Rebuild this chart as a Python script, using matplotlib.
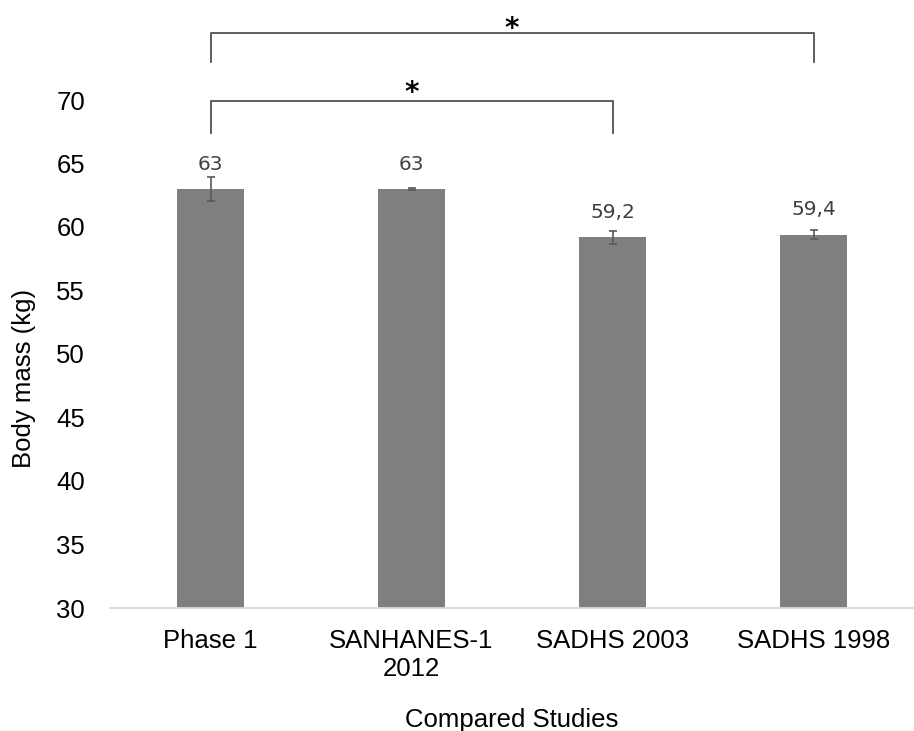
import matplotlib.pyplot as plt

studies = ['Phase 1', 'SANHANES-1\n2012', 'SADHS 2003', 'SADHS 1998']
body_mass = [63, 63, 59.2, 59.4]
errors = [0.95, 0.05, 0.5, 0.35]
value_labels = ['63', '63', '59,2', '59,4']

# significance brackets: (left bar, right bar, height, leg bottom, star baseline)
brackets = [(0, 3, 75.3, 73.0, 74.95), (0, 2, 69.9, 67.4, 69.9)]

fig = plt.figure(figsize=(9.14, 7.31), dpi=100)
ax = fig.add_axes([110 / 914, 123 / 731, 804 / 914, 608 / 731])

x = range(len(studies))
ax.bar(x, body_mass, width=0.33, color='#7f7f7f', zorder=2)
ax.errorbar(x, body_mass, yerr=errors, fmt='none', ecolor='#595959',
            elinewidth=1.2, capsize=3, capthick=1.2, zorder=3)

for i, (v, lab) in enumerate(zip(body_mass, value_labels)):
    ax.text(i, v + 1.95, lab, ha='center', va='center',
            fontsize=14.5, color='#404040', family='DejaVu Sans')

for a, b, top, leg, star in brackets:
    ax.plot([a, a, b, b], [leg, top, top, leg], color='#505050', lw=1.3,
            clip_on=False, zorder=4)
    ax.text((a + b) / 2, star, '*', ha='center', va='baseline',
            fontsize=20, fontweight='bold', color='black', family='DejaVu Sans')

ax.set_xlim(-0.5, 3.5)
ax.set_ylim(30, 30 + 608 / 12.7)
ax.set_yticks(range(30, 71, 5))
ax.set_xticks(list(x))
ax.set_xticklabels(studies, fontsize=18.5, family='Liberation Sans', linespacing=1.2)
for t in ax.get_yticklabels():
    t.set_fontsize(18.5)
    t.set_family('Liberation Sans')
ax.tick_params(axis='both', length=0)
ax.tick_params(axis='y', pad=18)
ax.tick_params(axis='x', pad=15)

for side in ['top', 'right', 'left']:
    ax.spines[side].set_visible(False)
ax.spines['bottom'].set_color('#d9d9d9')
ax.spines['bottom'].set_linewidth(1.3)

ax.set_ylabel('Body mass (kg)', fontsize=18.5, family='Liberation Sans')
ax.yaxis.set_label_coords(-74 / 804, 230 / 608)
ax.set_xlabel('Compared Studies', fontsize=18.5, family='Liberation Sans', labelpad=20)

fig.savefig('out.png', dpi=100)
